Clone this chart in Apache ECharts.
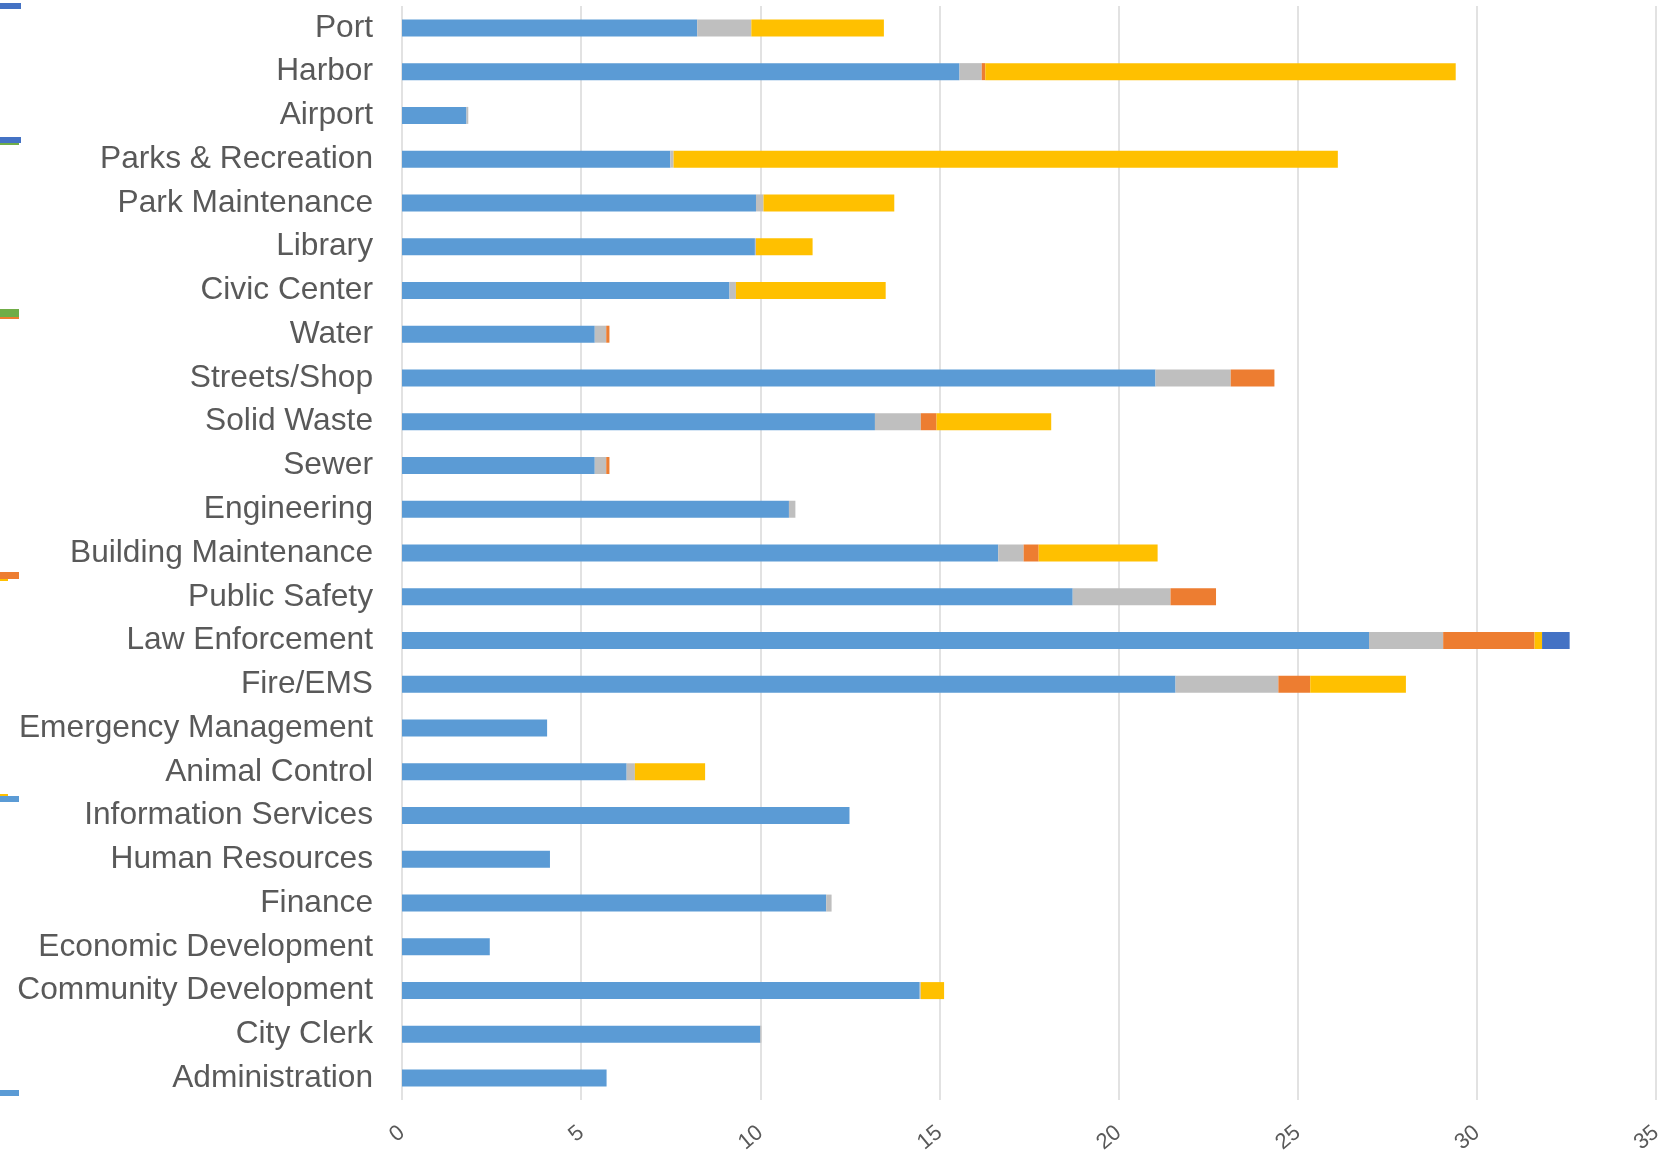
<!DOCTYPE html>
<html>
<head>
<meta charset="utf-8">
<title>Department Breakdown</title>
<script src="https://cdn.jsdelivr.net/npm/echarts@6/dist/echarts.min.js"></script>
<style>
  html, body { margin: 0; padding: 0; background: #ffffff; }
  #chart { width: 1665px; height: 1153px; }
</style>
</head>
<body>
<div id="chart"></div>
<script>
// Departments, top to bottom
const departments = [
  'Port', 'Harbor', 'Airport', 'Parks & Recreation', 'Park Maintenance',
  'Library', 'Civic Center', 'Water', 'Streets/Shop', 'Solid Waste',
  'Sewer', 'Engineering', 'Building Maintenance', 'Public Safety',
  'Law Enforcement', 'Fire/EMS', 'Emergency Management', 'Animal Control',
  'Information Services', 'Human Resources', 'Finance',
  'Economic Development', 'Community Development', 'City Clerk', 'Administration'
];

// Stacked segments, in the same department order
const seriesA = [8.24, 15.56, 1.80, 7.49, 9.88, 9.85, 9.14, 5.38, 21.03, 13.20,
                 5.38, 10.80, 16.64, 18.72, 26.99, 21.59, 4.05, 6.27, 12.49, 4.13,
                 11.84, 2.45, 14.45, 10.00, 5.71];
const seriesB = [1.51, 0.62, 0.05, 0.09, 0.21, 0.03, 0.18, 0.32, 2.10, 1.28,
                 0.32, 0.18, 0.71, 2.73, 2.07, 2.87, 0, 0.23, 0, 0,
                 0.15, 0, 0.03, 0.03, 0];
const seriesC = [0, 0.10, 0, 0, 0, 0, 0, 0.09, 1.22, 0.44,
                 0.09, 0, 0.42, 1.27, 2.55, 0.89, 0, 0, 0, 0,
                 0, 0, 0, 0, 0];
const seriesD = [3.70, 13.13, 0, 18.54, 3.65, 1.58, 4.18, 0, 0, 3.20,
                 0, 0, 3.32, 0, 0.21, 2.67, 0, 1.96, 0, 0,
                 0, 0, 0.65, 0, 0];
const seriesE = [0, 0, 0, 0, 0, 0, 0, 0, 0, 0,
                 0, 0, 0, 0, 0.77, 0, 0, 0, 0, 0,
                 0, 0, 0, 0, 0];

// Value axis ticks
const axisMin = 0;
const axisMax = 35;
const axisStep = 5;

const segments = [
  { name: 'A', values: seriesA, color: '#5B9BD5' },
  { name: 'B', values: seriesB, color: '#BFBFBF' },
  { name: 'C', values: seriesC, color: '#ED7D31' },
  { name: 'D', values: seriesD, color: '#FFC000' },
  { name: 'E', values: seriesE, color: '#4472C4' }
];

// Small colour swatches along the left edge
const edgeSwatches = [
  { x: 0, y: 3,    w: 21, h: 6, c: '#4472C4' },
  { x: 0, y: 137,  w: 21, h: 6, c: '#4472C4' },
  { x: 0, y: 143,  w: 19, h: 2, c: '#70AD47' },
  { x: 0, y: 309,  w: 19, h: 8, c: '#70AD47' },
  { x: 0, y: 317,  w: 19, h: 2, c: '#ED7D31' },
  { x: 0, y: 572,  w: 19, h: 7, c: '#ED7D31' },
  { x: 0, y: 579,  w: 8,  h: 2, c: '#FFC000' },
  { x: 0, y: 794,  w: 8,  h: 2, c: '#FFC000' },
  { x: 0, y: 796,  w: 19, h: 6, c: '#5B9BD5' },
  { x: 0, y: 1090, w: 19, h: 6, c: '#5B9BD5' }
];

const chart = echarts.init(document.getElementById('chart'), null, { renderer: 'canvas' });

const option = {
  backgroundColor: '#ffffff',
  animation: false,
  textStyle: { fontFamily: '"Liberation Sans", Arial, sans-serif' },
  grid: {
    left: 402, right: 9, top: 6, bottom: 53,
    containLabel: false,
    outerBoundsMode: 'none'
  },
  xAxis: {
    type: 'value',
    min: axisMin,
    max: axisMax,
    interval: axisStep,
    axisLine: { show: false },
    axisTick: { show: false },
    splitLine: { show: true, lineStyle: { color: '#D9D9D9', width: 1.5 } },
    axisLabel: {
      rotate: 40,
      margin: 30,
      fontSize: 22,
      color: '#595959',
      fontFamily: '"Liberation Sans", Arial, sans-serif'
    }
  },
  yAxis: {
    type: 'category',
    inverse: true,
    data: departments,
    axisLine: { show: false },
    axisTick: { show: false },
    splitLine: { show: false },
    axisLabel: {
      fontSize: 31.7,
      margin: 29,
      color: '#595959',
      fontFamily: '"Liberation Sans", Arial, sans-serif'
    }
  },
  series: segments.map(s => ({
    name: s.name,
    type: 'bar',
    stack: 'total',
    barWidth: 17,
    itemStyle: { color: s.color },
    emphasis: { disabled: true },
    data: s.values.map(v => (v === 0 ? '-' : v))
  })),
  graphic: edgeSwatches.map(r => ({
    type: 'rect',
    shape: { x: r.x, y: r.y, width: r.w, height: r.h },
    style: { fill: r.c },
    silent: true
  }))
};

chart.setOption(option);
</script>
</body>
</html>
